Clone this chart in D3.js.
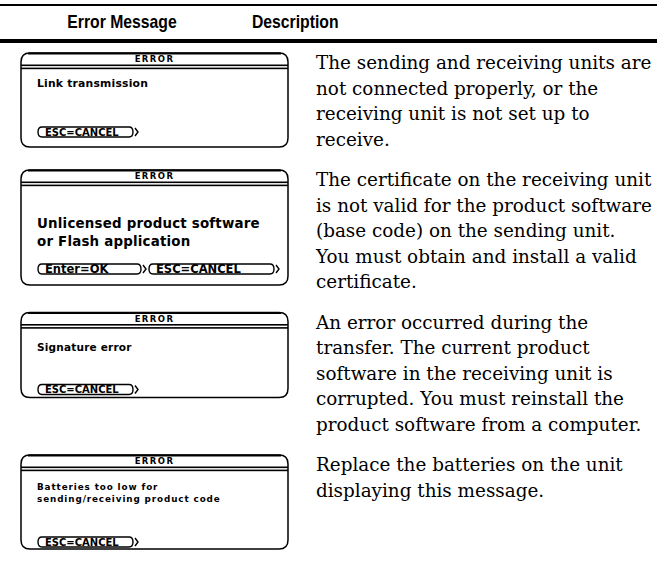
<!DOCTYPE html>
<html><head><meta charset="utf-8">
<script src="https://cdn.jsdelivr.net/npm/d3@7"></script>
<style>body{margin:0;background:#fff}</style>
</head><body><svg id="c" width="657" height="573"></svg>
<script>
const headers = ["Error Message", "Description"];
const screenTitles = ["ERROR", "ERROR", "ERROR", "ERROR"];
const screenMessages = [
  ["Link transmission"],
  ["Unlicensed product software", "or Flash application"],
  ["Signature error"],
  ["Batteries too low for", "sending/receiving product code"]
];
const screenButtons = [["ESC=CANCEL"], ["Enter=OK", "ESC=CANCEL"], ["ESC=CANCEL"], ["ESC=CANCEL"]];
const descriptions = [
  ["The sending and receiving units are", "not connected properly, or the", "receiving unit is not set up to", "receive."],
  ["The certificate on the receiving unit", "is not valid for the product software", "(base code) on the sending unit.", "You must obtain and install a valid", "certificate."],
  ["An error occurred during the", "transfer. The current product", "software in the receiving unit is", "corrupted. You must reinstall the", "product software from a computer."],
  ["Replace the batteries on the unit", "displaying this message."]
];

// ---- layout (not data) ----
const W = 657, H = 573;
const descX = 316, descLine = 25.5, paraGap = 40.5, firstBaseline = 69, descMaxW = 336;
const screenX0 = 21, screenX1 = 288;
const screenH = [94, 115, 85, 94];
const msgOffsets = [[30], [53, 71], [35], [32, 43.5]];
const msgFont = [10.8, 13.4, 10.5, 8.8];
const msgSpacing = [0.2, 0.2, 0.2, 0.9];
const btnOffsets = [79, 99, 77, 87];
const btnFont = [10, 11.5, 10, 10];
const btnSpans = [[[38, 137]], [[38, 145], [149, 278]], [[38, 137]], [[38, 137]]];

// row positions derived from description line counts
const baselines = [];
descriptions.reduce((b, lines) => { baselines.push(b); return b + (lines.length - 1) * descLine + paraGap; }, firstBaseline);
const rowTops = baselines.map(b => b - 16);

const svg = d3.select("#c");
svg.append("rect").attr("x", 0).attr("y", 4).attr("width", W).attr("height", 2).attr("fill", "#000");
svg.append("rect").attr("x", 0).attr("y", 39).attr("width", W).attr("height", 4).attr("fill", "#000");

const hx = d3.scaleOrdinal().domain(headers).range([122, 252]);
svg.selectAll("text.hdr").data(headers).join("text").attr("class", "hdr")
  .attr("transform", d => `translate(${hx(d)},28) scale(0.9,1)`)
  .attr("text-anchor", (d, i) => i === 0 ? "middle" : "start")
  .attr("font-family", "Liberation Sans, Arial, sans-serif")
  .attr("font-weight", "bold").attr("font-size", 17.5).text(d => d);

const rows = d3.range(descriptions.length);

// descriptions
const dg = svg.selectAll("g.desc").data(rows).join("g").attr("class", "desc")
  .attr("transform", i => `translate(${descX},${baselines[i]})`);
const dt = dg.selectAll("text").data(i => descriptions[i]).join("text")
  .attr("x", 0).attr("y", (d, j) => j * descLine)
  .attr("font-family", "DejaVu Serif, serif").attr("font-size", 16)
  .attr("fill", "#000").text(d => d);
let maxLen = 0;
dt.each(function () { maxLen = Math.max(maxLen, this.getComputedTextLength()); });
dt.attr("font-size", 16 * descMaxW / maxLen);

// screens
function boxPath(x0, y0, x1, y1) {
  const r = 9;
  return `M${x0},${y0 + r} Q${x0},${y0} ${x0 + r},${y0} H${x1 - r} Q${x1},${y0} ${x1},${y0 + r} V${y1 - r} Q${x1},${y1} ${x1 - r},${y1} H${x0 + r} Q${x0},${y1} ${x0},${y1 - r} Z`;
}
function btnPath(x0, x1, yc) {
  const h = 5;
  return `M${x0 + 4},${yc - h} Q${x0},${yc - h} ${x0},${yc} Q${x0},${yc + h} ${x0 + 4},${yc + h} M${x0 + 4},${yc - h} H${x1 - 8} Q${x1 - 4},${yc - h} ${x1 - 4},${yc} Q${x1 - 4},${yc + h} ${x1 - 8},${yc + h} H${x0 + 4} M${x1 - 2},${yc - h + 1} L${x1 + 1},${yc} L${x1 - 2},${yc + h - 1}`;
}

const sg = svg.selectAll("g.scr").data(rows).join("g").attr("class", "scr")
  .attr("transform", i => `translate(0,${rowTops[i]})`);
sg.append("path").attr("d", i => boxPath(screenX0, 0, screenX1, screenH[i]))
  .attr("fill", "#fff").attr("stroke", "#000").attr("stroke-width", 1.5);
sg.append("rect").attr("x", screenX0 + 7).attr("y", -0.5).attr("width", screenX1 - screenX0 - 14).attr("height", 2).attr("fill", "#000");
sg.append("text").attr("x", (screenX0 + screenX1) / 2).attr("y", 9).attr("text-anchor", "middle")
  .attr("font-family", "DejaVu Sans, sans-serif").attr("font-weight", "bold").attr("font-size", 8.5)
  .attr("letter-spacing", 1.4).text(i => screenTitles[i]);
sg.append("rect").attr("x", screenX0).attr("y", 11.5).attr("width", screenX1 - screenX0).attr("height", 1.6).attr("fill", "#000");
sg.append("rect").attr("x", screenX0).attr("y", 14.6).attr("width", screenX1 - screenX0).attr("height", 1.6).attr("fill", "#000");
sg.each(function (i) {
  const g = d3.select(this);
  g.selectAll("text.msg").data(screenMessages[i]).join("text").attr("class", "msg")
    .attr("x", 37).attr("y", (d, j) => msgOffsets[i][j] + msgFont[i] * 0.36)
    .attr("font-family", "DejaVu Sans, sans-serif").attr("font-weight", "bold")
    .attr("letter-spacing", msgSpacing[i])
    .attr("font-size", msgFont[i]).text(d => d);
  const yc = btnOffsets[i];
  screenButtons[i].forEach((b, k) => {
    const [bx0, bx1] = btnSpans[i][k];
    g.append("path").attr("d", btnPath(bx0, bx1, yc))
      .attr("fill", "none").attr("stroke", "#000").attr("stroke-width", 1.4);
    g.append("text").attr("x", bx0 + 7).attr("y", yc + btnFont[i] * 0.36)
      .attr("font-family", "DejaVu Sans, sans-serif").attr("font-weight", "bold")
      .attr("font-size", btnFont[i]).text(b);
  });
});
</script></body></html>
